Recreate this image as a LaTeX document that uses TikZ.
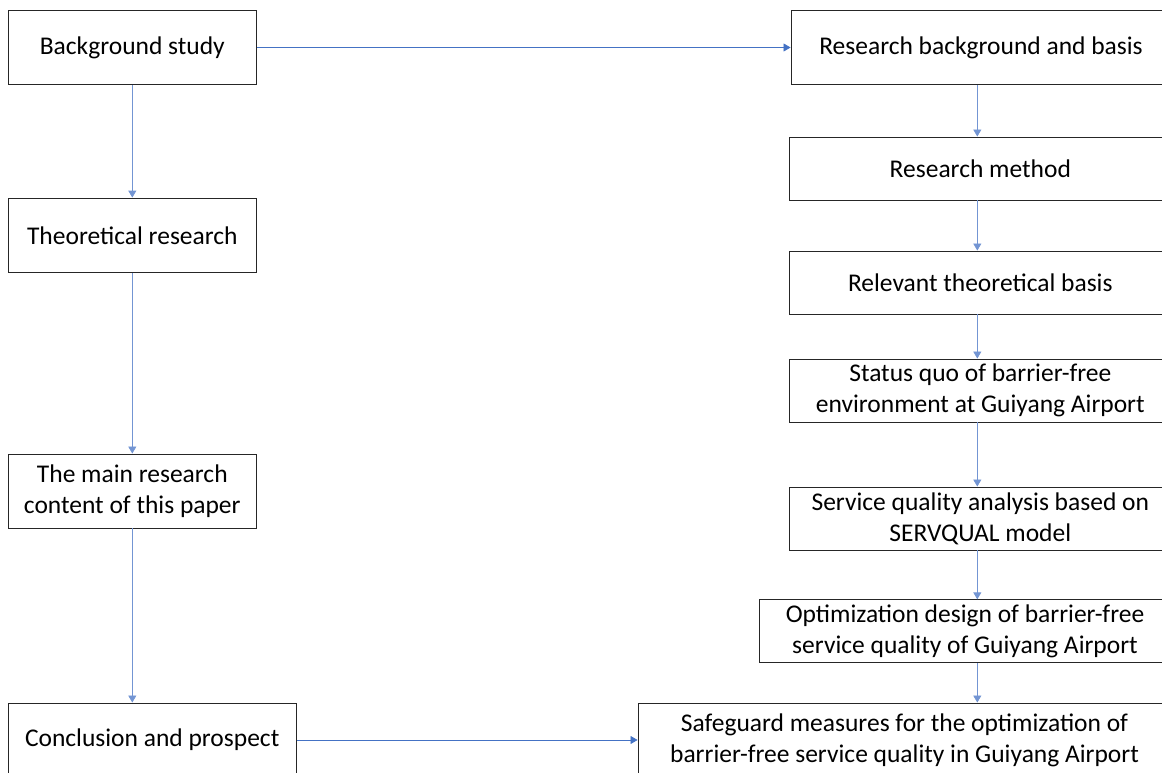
\documentclass[tikz,border=0pt]{standalone}
\usepackage{fontspec}
\setmainfont{Carlito}
\usepackage{tikz}
\usetikzlibrary{arrows.meta,positioning,calc}
\definecolor{flowblue}{RGB}{68,114,196}

\begin{document}
\begin{tikzpicture}[
    x=1pt, y=-1pt,
    box/.style={rectangle, draw=black!85, line width=0.9pt, minimum width=#1, text centered, align=center, inner sep=0pt, font=\fontsize{25.5}{31}\selectfont},
    box/.default=248pt,
    arr/.style={-{Triangle[length=7pt, width=8pt]}, draw=flowblue!75, line width=0.8pt}
]
\useasboundingbox (0,0) rectangle (1162,773);

% Left column
\node[box, minimum height=74.5pt] (bg) at (132.3, 47.5) {Background study};
\node[box, minimum height=74.5pt] (theory) at (132.3, 235.3) {Theoretical research};
\node[box, minimum height=74pt] (content) at (132.3, 491) {The main research\\content of this paper};
\node[box=287.7pt, minimum height=74pt] (concl) at (152.2, 740) {Conclusion and prospect};

% Right column (runs past the right edge)
\node[box=380pt, minimum height=74.7pt] (rbg) at (981, 47.6) {Research background and basis};
\node[box=381.3pt, minimum height=63pt] (method) at (980.3, 168.5) {Research method};
\node[box=381.3pt, minimum height=63pt] (relevant) at (980.3, 282.5) {Relevant theoretical basis};
\node[box=381.3pt, minimum height=63pt] (status) at (980.3, 390.5) {Status quo of barrier-free\\environment at Guiyang Airport};
\node[box=381.3pt, minimum height=63pt] (service) at (980.3, 518.5) {Service quality analysis based on\\SERVQUAL model};
\node[box=412pt, minimum height=63pt] (opt) at (965, 631.3) {Optimization design of barrier-free\\service quality of Guiyang Airport};
\node[box=533pt, minimum height=75pt] (safe) at (904.5, 740.5) {Safeguard measures for the optimization of\\barrier-free service quality in Guiyang Airport};
\coordinate (rcol) at (977.3, 0);

% -- Arrows --
\draw[arr] (bg) -- (theory);
\draw[arr] (theory) -- (content);
\draw[arr] (content.south) -- (content.south |- concl.north);
\draw[arr, draw=flowblue] (bg.east) -- (bg.east -| rbg.west);
\draw[arr] (rcol |- rbg.south) -- (rcol |- method.north);
\draw[arr] (rcol |- method.south) -- (rcol |- relevant.north);
\draw[arr] (rcol |- relevant.south) -- (rcol |- status.north);
\draw[arr] (rcol |- status.south) -- (rcol |- service.north);
\draw[arr] (rcol |- service.south) -- (rcol |- opt.north);
\draw[arr] (rcol |- opt.south) -- (rcol |- safe.north);
\draw[arr, draw=flowblue] (concl.east) -- (concl.east -| safe.west);

\end{tikzpicture}
\end{document}
